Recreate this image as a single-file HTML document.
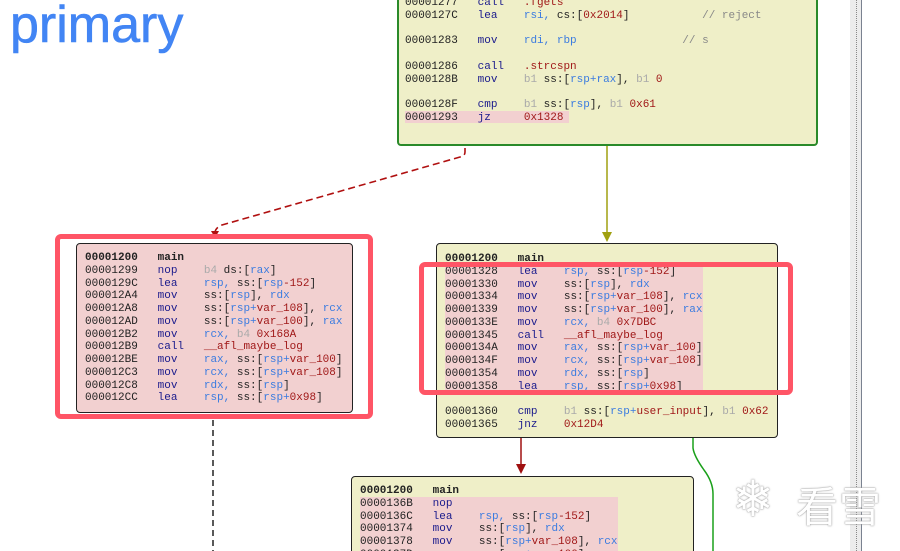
<!DOCTYPE html>
<html style="overflow:hidden;width:900px;height:551px"><head><meta charset="utf-8"><style>
body{margin:0;width:900px;height:551px;overflow:hidden;background:#fff;position:relative;font-family:"Liberation Mono",monospace;}
.t{position:absolute;font-size:11px;line-height:12.75px;white-space:pre;color:#222}
.box{position:absolute;border:1.5px solid #222;border-radius:4px;box-sizing:border-box}
.y{background:#efefc8}
.p{background:#f2d0d0}
.m{color:#1a1a8c}.r{color:#3a7be0}.n{color:#a01818}.g{color:#aaa}.c{color:#888}
.hl{position:absolute;background:#f2d0d0}
</style></head><body>
<div style="position:absolute;left:10px;top:-5px;font-family:'Liberation Sans',sans-serif;font-size:52px;color:#4285f4;-webkit-text-stroke:0.6px #4285f4">primary</div>

<div style="position:absolute;left:850px;top:0;width:11px;height:551px;background:#ececec;border-right:1.5px solid #7a8290"></div>
<div style="position:absolute;left:856px;top:0;width:0;height:551px;border-left:1px dotted #888"></div>

<svg style="position:absolute;left:0;top:0" width="900" height="551">
<path d="M465 148 L465 152 Q465 156 460 157 L222 225 Q215 228 215 233" fill="none" stroke="#b01010" stroke-width="1.6" stroke-dasharray="7,4"/>
<polygon points="211,231 219,231 215,238" fill="#b01010"/>
<line x1="607" y1="145" x2="607" y2="234" stroke="#a0a010" stroke-width="1.5"/>
<polygon points="602,232 612,232 607,242" fill="#a0a010"/>
<line x1="213" y1="420" x2="213" y2="551" stroke="#222" stroke-width="1.5" stroke-dasharray="6,4"/>
<line x1="521" y1="437" x2="521" y2="466" stroke="#a01010" stroke-width="1.5"/>
<polygon points="516,464 526,464 521,474" fill="#a01010"/>
<path d="M693 437 L693 448 Q694 456 704 470 Q713 482 713 494 L713 551" fill="none" stroke="#1aa01a" stroke-width="1.5"/>
</svg>

<div class="box y" style="left:397px;top:-10px;width:421px;height:156px;border-color:#2a8a2a;border-width:2px"></div>
<div class="hl" style="left:405px;top:111px;width:164px;height:12px"></div>
<div class="t" style="left:405px;top:-3px">00001277   <span class="m">call</span>   <span class="n">.fgets</span>
0000127C   <span class="m">lea</span>    <span class="r">rsi,</span> cs:[<span class="n">0x2014</span>]           <span class="c">// reject</span>

00001283   <span class="m">mov</span>    <span class="r">rdi, rbp</span>                <span class="c">// s</span>

00001286   <span class="m">call</span>   <span class="n">.strcspn</span>
0000128B   <span class="m">mov</span>    <span class="g">b1</span> ss:[<span class="r">rsp+rax</span>], <span class="g">b1</span> <span class="n">0</span>

0000128F   <span class="m">cmp</span>    <span class="g">b1</span> ss:[<span class="r">rsp</span>], <span class="g">b1</span> <span class="n">0x61</span>
00001293   <span class="m">jz</span>     <span class="n">0x1328</span></div>

<div style="position:absolute;left:55px;top:234px;width:318px;height:185px;border:5px solid #ff5566;border-radius:6px;box-sizing:border-box"></div>
<div class="box p" style="left:76px;top:243px;width:277px;height:170px"></div>
<div class="t" style="left:85px;top:252px"><b>00001200   main</b>
00001299   <span class="m">nop</span>    <span class="g">b4</span> ds:[<span class="r">rax</span>]
0000129C   <span class="m">lea</span>    <span class="r">rsp,</span> ss:[<span class="r">rsp</span><span class="n">-152</span>]
000012A4   <span class="m">mov</span>    ss:[<span class="r">rsp</span>], <span class="r">rdx</span>
000012A8   <span class="m">mov</span>    ss:[<span class="r">rsp+</span><span class="n">var_108</span>], <span class="r">rcx</span>
000012AD   <span class="m">mov</span>    ss:[<span class="r">rsp+</span><span class="n">var_100</span>], <span class="r">rax</span>
000012B2   <span class="m">mov</span>    <span class="r">rcx,</span> <span class="g">b4</span> <span class="n">0x168A</span>
000012B9   <span class="m">call</span>   <span class="n">__afl_maybe_log</span>
000012BE   <span class="m">mov</span>    <span class="r">rax,</span> ss:[<span class="r">rsp+</span><span class="n">var_100</span>]
000012C3   <span class="m">mov</span>    <span class="r">rcx,</span> ss:[<span class="r">rsp+</span><span class="n">var_108</span>]
000012C8   <span class="m">mov</span>    <span class="r">rdx,</span> ss:[<span class="r">rsp</span>]
000012CC   <span class="m">lea</span>    <span class="r">rsp,</span> ss:[<span class="r">rsp+</span><span class="n">0x98</span>]</div>

<div class="box y" style="left:436px;top:243px;width:342px;height:195px"></div>
<div class="hl" style="left:445px;top:265px;width:258px;height:127px"></div>
<div class="t" style="left:445px;top:253px"><b>00001200   main</b>
00001328   <span class="m">lea</span>    <span class="r">rsp,</span> ss:[<span class="r">rsp</span><span class="n">-152</span>]
00001330   <span class="m">mov</span>    ss:[<span class="r">rsp</span>], <span class="r">rdx</span>
00001334   <span class="m">mov</span>    ss:[<span class="r">rsp+</span><span class="n">var_108</span>], <span class="r">rcx</span>
00001339   <span class="m">mov</span>    ss:[<span class="r">rsp+</span><span class="n">var_100</span>], <span class="r">rax</span>
0000133E   <span class="m">mov</span>    <span class="r">rcx,</span> <span class="g">b4</span> <span class="n">0x7DBC</span>
00001345   <span class="m">call</span>   <span class="n">__afl_maybe_log</span>
0000134A   <span class="m">mov</span>    <span class="r">rax,</span> ss:[<span class="r">rsp+</span><span class="n">var_100</span>]
0000134F   <span class="m">mov</span>    <span class="r">rcx,</span> ss:[<span class="r">rsp+</span><span class="n">var_108</span>]
00001354   <span class="m">mov</span>    <span class="r">rdx,</span> ss:[<span class="r">rsp</span>]
00001358   <span class="m">lea</span>    <span class="r">rsp,</span> ss:[<span class="r">rsp+</span><span class="n">0x98</span>]

00001360   <span class="m">cmp</span>    <span class="g">b1</span> ss:[<span class="r">rsp+</span><span class="n">user_input</span>], <span class="g">b1</span> <span class="n">0x62</span>
00001365   <span class="m">jnz</span>    <span class="n">0x12D4</span></div>
<div style="position:absolute;left:419px;top:262px;width:374px;height:133px;border:5px solid #ff5566;border-radius:6px;box-sizing:border-box"></div>

<div class="box y" style="left:351px;top:476px;width:343px;height:100px"></div>
<div class="hl" style="left:360px;top:497px;width:258px;height:60px"></div>
<div class="t" style="left:360px;top:485px"><b>00001200   main</b>
0000136B   <span class="m">nop</span>
0000136C   <span class="m">lea</span>    <span class="r">rsp,</span> ss:[<span class="r">rsp</span><span class="n">-152</span>]
00001374   <span class="m">mov</span>    ss:[<span class="r">rsp</span>], <span class="r">rdx</span>
00001378   <span class="m">mov</span>    ss:[<span class="r">rsp+</span><span class="n">var_108</span>], <span class="r">rcx</span>
0000137D   <span class="m">mov</span>    ss:[<span class="r">rsp+</span><span class="n">var_100</span>], <span class="r">rax</span></div>

<div style="position:absolute;left:732px;top:470px;font-family:'DejaVu Sans',sans-serif;font-size:50px;color:#fff;text-shadow:0 0 1px #888,0 0 2px #aaa">❄</div>
<div style="position:absolute;left:796px;top:474px;font-family:'Noto Sans CJK SC',sans-serif;font-size:42px;color:#fff;text-shadow:0 0 1px #888,0 0 2px #aaa;letter-spacing:1px">看雪</div>
</body></html>
